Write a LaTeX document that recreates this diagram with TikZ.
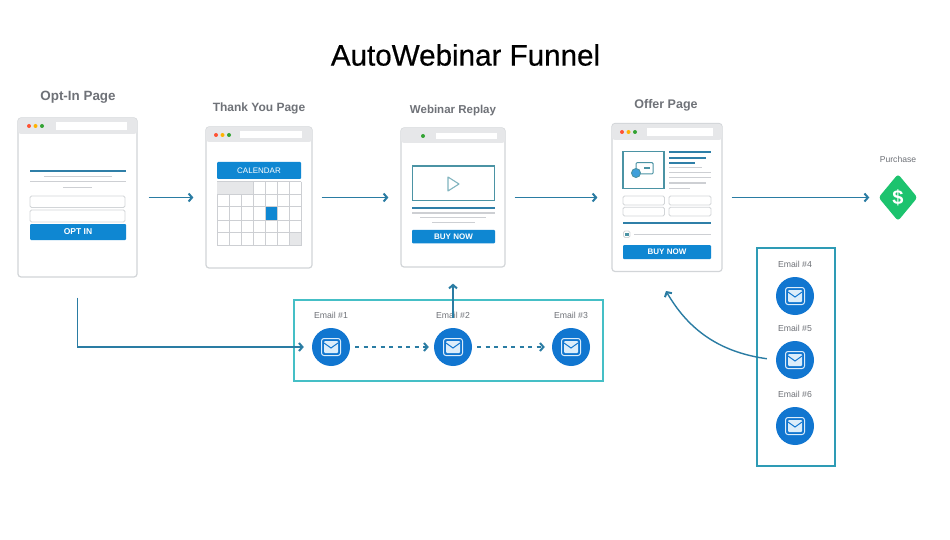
\documentclass[tikz,border=0pt]{standalone}
\usepackage{fontspec}
\setmainfont{Liberation Sans}
\newfontfamily\titlefont[FakeBold=0.5]{Liberation Sans}
\usetikzlibrary{shapes.geometric, positioning, arrows.meta, calc}
\definecolor{flowblue}{HTML}{2A7CA3}
\definecolor{btnblue}{HTML}{0F87D2}
\definecolor{mailblue}{HTML}{1176D0}
\definecolor{mailpale}{HTML}{DCEDFA}
\definecolor{pageline}{HTML}{D2D5D8}
\definecolor{headgrey}{HTML}{E6E7E9}
\definecolor{textgrey}{HTML}{6F7278}
\definecolor{rulegrey}{HTML}{CDCFD3}
\definecolor{ruleblue}{HTML}{2F7FA8}
\definecolor{frameteal}{HTML}{4B93A4}
\definecolor{seqteal}{HTML}{45BFC6}
\definecolor{colteal}{HTML}{2E9BB5}
\definecolor{buygreen}{HTML}{1CC36E}

\begin{document}
\begin{tikzpicture}[x=1pt, y=-1pt,
    page/.style={draw=pageline, line width=1.2pt, rounded corners=3pt, fill=white, inner sep=0pt},
    heading/.style={font=\bfseries\fontsize{12}{14}\selectfont, text=textgrey},
    mailtext/.style={font=\fontsize{8.7}{10}\selectfont, text=textgrey},
    button/.style={fill=btnblue, rounded corners=1pt, inner sep=0pt, text=white,
                   font=\bfseries\fontsize{8}{10}\selectfont},
    field/.style={draw=pageline, line width=0.9pt, rounded corners=1.5pt, fill=white},
    blueline/.style={draw=ruleblue, line width=1.9pt},
    greyline/.style={draw=rulegrey, line width=1.4pt},
    mail/.style={circle, fill=mailblue, inner sep=0pt, minimum size=38pt},
    flow/.style={draw=flowblue, line width=1.4pt, -{Straight Barb[length=3.5pt,width=8pt,line width=2pt]}},
    groupbox/.style={draw, line width=2.2pt, inner sep=0pt}
]
    % --- Background and title ---
    \useasboundingbox (0,0) rectangle (950,540);
    \fill[white] (0,0) rectangle (950,540);
    \node[font=\titlefont\fontsize{29.6}{34}\selectfont] (title) at (465.5,55) {AutoWebinar Funnel};

    % --- Pages ---
    \node[page, minimum width=119pt, minimum height=159pt] (optin)   at (77.5,197.5)  {};
    \node[page, minimum width=106pt, minimum height=141pt] (thanks)  at (259,197.5)   {};
    \node[page, minimum width=104pt, minimum height=139pt] (webinar) at (453,197.5)   {};
    \node[page, minimum width=110pt, minimum height=148pt] (offer)   at (667,197.5)   {};

    \node[heading, font=\bfseries\fontsize{13.4}{15}\selectfont] (optinlabel) at (78,97.5) {Opt-In Page};
    \node[heading] (thankslabel)  at (259,108) {Thank You Page};
    \node[heading, font=\bfseries\fontsize{11.5}{14}\selectfont] (webinarlabel) at (453,110.5) {Webinar Replay};
    \node[heading, font=\bfseries\fontsize{12.5}{14}\selectfont] (offerlabel)   at (666,105) {Offer Page};

    % --- Browser bars ---
    \foreach \xa/\xb/\ya/\yb/\bara/\barb/\dotx in {
        18/137/118/134/56/127/29,
        206/312/127/142/240/302/216,
        612/722/124/140/647/713/622} {
        \fill[headgrey, rounded corners=3pt] (\xa,\yb) |- (\xb,\ya) |- cycle;
        \fill[white] (\bara,\ya+4.5) rectangle (\barb,\yb-3.5);
        \fill[red!70!orange!80!white] (\dotx,\ya+8) circle (2pt);
        \fill[orange!60!yellow] (\dotx+6.5,\ya+8) circle (2pt);
        \fill[green!55!black!80!white] (\dotx+13,\ya+8) circle (2pt);
    }
    \fill[headgrey, rounded corners=3pt] (401,143) |- (505,128) |- cycle;
    \fill[white] (436,133) rectangle (497,139);
    \fill[green!55!black!80!white] (423,136) circle (2pt);

    % --- Opt-in page content ---
    \draw[blueline] (30,170.7) -- (126,170.7);
    \draw[greyline] (44,176.7) -- (112,176.7);
    \draw[greyline] (30,181.7) -- (126,181.7);
    \draw[greyline] (63,187.7) -- (92,187.7);
    \draw[field] (30,196) rectangle (125,207.5);
    \draw[field] (30,210) rectangle (125,222);
    \node[button, minimum width=96pt, minimum height=16pt, font=\bfseries\fontsize{8.5}{10}\selectfont] (optinbtn) at (78,232) {OPT IN};

    % --- Calendar ---
    \node[button, minimum width=84pt, minimum height=17pt, font=\fontsize{8}{10}\selectfont] (calendar) at (259,170.5) {CALENDAR};
    \fill[headgrey] (217,181.7) rectangle (253,194.3);
    \fill[btnblue] (265,206.7) rectangle (277,220);
    \fill[headgrey] (289,232.3) rectangle (301,245.7);
    \foreach \gx in {217,229,...,301}
        \draw[rulegrey, line width=0.8pt] (\gx,194.3) -- (\gx,245.7);
    \foreach \gx in {253,265,...,301}
        \draw[rulegrey, line width=0.8pt] (\gx,181.7) -- (\gx,194.3);
    \foreach \gy in {181.7,194.3,206.7,220,232.3,245.7}
        \draw[rulegrey, line width=0.8pt] (217,\gy) -- (301,\gy);

    % --- Webinar page content ---
    \draw[frameteal, line width=1.3pt] (412.3,166) rectangle (494.7,200.7);
    \draw[frameteal!70!white, line width=1.1pt, line join=round] (448,177) -- (459,184) -- (448,191) -- cycle;
    \draw[blueline] (412,208) -- (495,208);
    \draw[greyline] (412,213) -- (495,213);
    \draw[greyline] (420,217.7) -- (486,217.7);
    \draw[greyline] (432,222.7) -- (475,222.7);
    \node[button, minimum width=83pt, minimum height=13.5pt] (replaybtn) at (453.5,236.7) {BUY NOW};

    % --- Offer page content ---
    \draw[frameteal, line width=1.3pt] (623,151.7) rectangle (664,188.7);
    \draw[frameteal, line width=1pt, rounded corners=1pt] (636,162.7) rectangle (653,174);
    \fill[frameteal] (644,167.5) rectangle (650,169.5);
    \draw[frameteal, fill=btnblue!80!white, line width=0.9pt] (636,173) circle (4.5pt);
    \draw[blueline] (669,152.3) -- (711,152.3);
    \draw[blueline] (669,157.7) -- (706,157.7);
    \draw[blueline] (669,162.7) -- (695,162.7);
    \foreach \ly/\lx in {167.7/702, 172.3/711, 177.7/711, 183/706, 188.3/690}
        \draw[greyline, line width=1.2pt] (669,\ly) -- (\lx,\ly);
    \draw[field] (623,196) rectangle (664.5,205);
    \draw[field] (669,196) rectangle (711,205);
    \draw[field] (623,207.3) rectangle (664.5,216);
    \draw[field] (669,207.3) rectangle (711,216);
    \draw[blueline] (623,222.7) -- (711,222.7);
    \draw[field] (623.5,231) rectangle (630,237.5);
    \fill[frameteal] (625,232.5) rectangle (628.5,236);
    \draw[greyline] (634,234.3) -- (711,234.3);
    \node[button, minimum width=88pt, minimum height=14pt] (offerbtn) at (667,252.2) {BUY NOW};

    % --- Purchase ---
    \node[diamond, fill=buygreen, rounded corners=3pt, minimum width=39pt, minimum height=47pt, inner sep=0pt] (purchase) at (898,197.5) {};
    \node[text=white, font=\bfseries\fontsize{20}{22}\selectfont] (dollar) at (purchase) {\$};
    \node[mailtext, font=\fontsize{8.6}{10}\selectfont] (purchaselabel) at (898,159.5) {Purchase};

    % --- Email groups ---
    \node[groupbox, draw=seqteal, minimum width=309pt, minimum height=81pt] (seqbox) at (448.5,340.5) {};
    \node[groupbox, draw=colteal, minimum width=78pt, minimum height=218pt] (colbox) at (796,357) {};

    \foreach \mname/\mx/\my/\mnum/\ly in {
        mail1/331/347/1/315.5, mail2/453/347/2/315.5, mail3/571/347/3/315.5,
        mail4/795/296/4/264.5, mail5/795/360/5/328.5, mail6/795/426/6/394.5} {
        \node[mail] (\mname) at (\mx,\my) {};
        \node[mailtext] (\mname label) at (\mx,\ly) {Email \#\mnum};
        \draw[mailpale, line width=1pt, rounded corners=2.5pt] (\mx-9.5,\my-8.5) rectangle (\mx+9.5,\my+8.5);
        \fill[mailpale, rounded corners=1pt] (\mx-7,\my-6) rectangle (\mx+7,\my+6);
        \draw[mailblue, line width=1pt] (\mx-7,\my-4) -- (\mx,\my+1) -- (\mx+7,\my-4);
    }

    % --- Connectors ---
    \coordinate (offertip) at (666,291);
    \draw[flow, shorten <=11pt, shorten >=12pt] (optin) -- (thanks);
    \draw[flow, shorten <=9pt, shorten >=12pt] (thanks) -- (webinar);
    \draw[flow, shorten <=9pt, shorten >=14pt] (webinar) -- (offer);
    \draw[flow, shorten <=9pt, shorten >=9pt] (offer) -- (purchase);
    \draw[flow, shorten <=20pt, shorten >=8pt] (optin.south) |- (mail1);
    \draw[flow, shorten <=10pt, shorten >=16pt] (mail2) -- (webinar);
    \draw[flow, dash pattern=on 4pt off 4.5pt, shorten <=5pt, shorten >=5pt] (mail1) -- (mail2);
    \draw[flow, dash pattern=on 4pt off 4.5pt, shorten <=5pt, shorten >=7pt] (mail2) -- (mail3);
    \draw[flow, shorten <=9pt] (mail5.west) to[out=172, in=-60] (offertip);
\end{tikzpicture}
\end{document}
